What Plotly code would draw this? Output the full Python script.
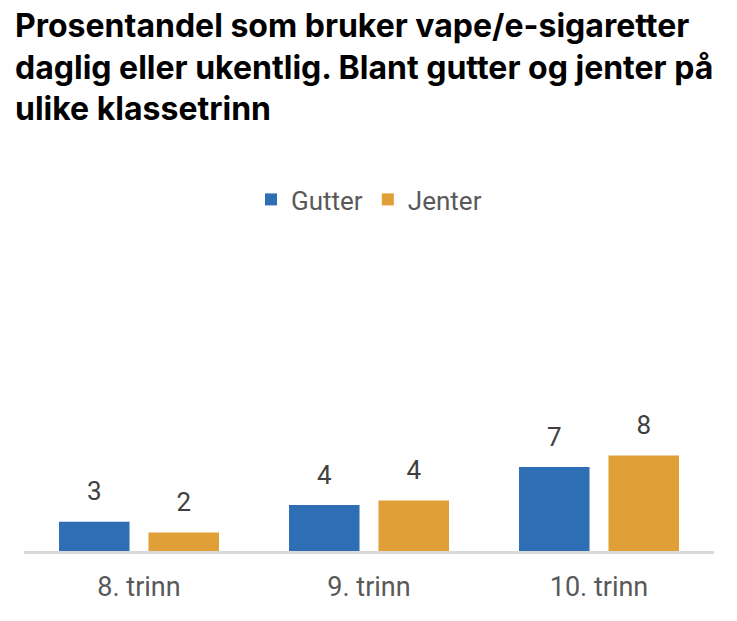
import plotly.graph_objects as go

categories = ["8. trinn", "9. trinn", "10. trinn"]
gutter = [2.55, 4.0, 7.3]
jenter = [1.6, 4.4, 8.3]
series_names = ["Gutter", "Jenter"]
colors = ["#2e6eb5", "#e09f37"]
title_text = ("Prosentandel som bruker vape/e-sigaretter<br>"
              "daglig eller ukentlig. Blant gutter og jenter på<br>"
              "ulike klassetrinn")

FONT = "Roboto"
fig = go.Figure()
for name, vals, col in zip(series_names, [gutter, jenter], colors):
    fig.add_trace(go.Bar(
        x=categories, y=vals, name=name, offsetgroup=name,
        marker=dict(color=col, line=dict(color=col, width=0)),
        hoverinfo="skip",
    ))
for name, vals, col in zip(series_names, [gutter, jenter], colors):
    fig.add_trace(go.Scatter(
        x=categories, y=vals, mode="markers+text", offsetgroup=name,
        text=[str(int(v + 0.5)) for v in vals],
        textposition="top center",
        textfont=dict(family=FONT, size=26, color="#404040"),
        marker=dict(size=22, opacity=0),
        showlegend=False, hoverinfo="skip", cliponaxis=False,
    ))

fig.add_annotation(
    text=title_text, xref="paper", yref="paper",
    x=(13 - 24) / 690, y=(551 - 67) / 321, xanchor="left", yanchor="middle",
    align="left", showarrow=False,
    font=dict(family="Inter", size=32, color="#000000", weight="bold"),
)

fig.update_layout(
    width=737, height=621,
    margin=dict(l=24, r=23, t=230, b=70),
    paper_bgcolor="white", plot_bgcolor="white",
    barmode="group", bargap=0.222, bargroupgap=0.212,
    scattermode="group", scattergap=0.222,
    legend=dict(orientation="h", x=0.5, xanchor="center", y=1.095, yanchor="middle",
                font=dict(family=FONT, size=26, color="#595959"),
                itemclick=False, traceorder="normal"),
    xaxis=dict(showline=True, linecolor="#d9d9d9", linewidth=3, ticks="",
               ticklabelstandoff=10,
               tickfont=dict(family=FONT, size=27, color="#595959"),
               showgrid=False, zeroline=False),
    yaxis=dict(range=[0, 27.9], visible=False, showgrid=False, zeroline=False),
    font=dict(family=FONT),
)
fig.write_html("out.html")
